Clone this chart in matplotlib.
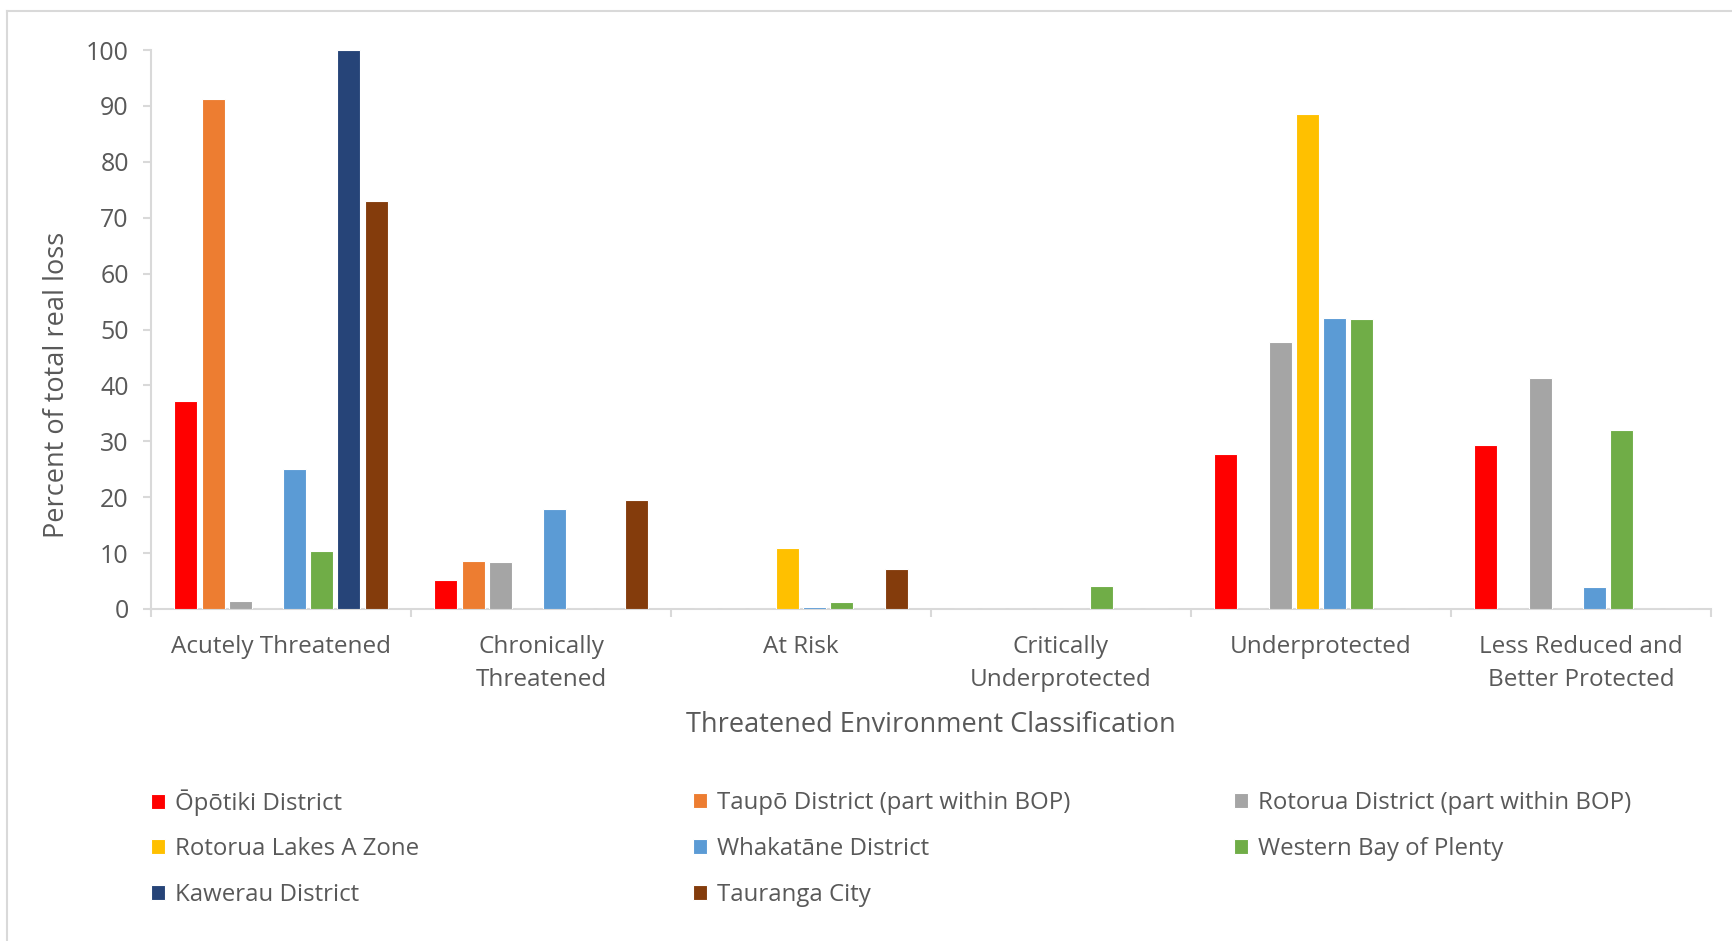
import matplotlib
matplotlib.use("Agg")
import matplotlib.pyplot as plt
import numpy as np
from matplotlib.lines import Line2D

plt.rcParams['font.family'] = ['Open Sans', 'DejaVu Sans']

categories = ["Acutely Threatened", "Chronically\nThreatened", "At Risk",
              "Critically\nUnderprotected", "Underprotected",
              "Less Reduced and\nBetter Protected"]

series_names = ["Ōpōtiki District", "Taupō District (part within BOP)",
                "Rotorua District (part within BOP)", "Rotorua Lakes A Zone",
                "Whakatāne District", "Western Bay of Plenty",
                "Kawerau District", "Tauranga City"]

opotiki   = [37.2, 5.2, 0.0, 0.0, 27.8, 29.3]
taupo     = [91.2, 8.6, 0.0, 0.0, 0.0, 0.0]
rotorua   = [1.5, 8.4, 0.0, 0.0, 47.8, 41.4]
lakes     = [0.0, 0.0, 11.0, 0.0, 88.6, 0.0]
whakatane = [25.0, 17.9, 0.4, 0.0, 52.1, 3.9]
wbop      = [10.3, 0.0, 1.2, 4.2, 51.8, 32.0]
kawerau   = [100.0, 0.0, 0.0, 0.0, 0.0, 0.0]
tauranga  = [73.0, 19.5, 7.1, 0.0, 0.0, 0.0]

series_values = [opotiki, taupo, rotorua, lakes, whakatane, wbop, kawerau, tauranga]
colors = ["#FF0000", "#ED7D31", "#A5A5A5", "#FFC000",
          "#5B9BD5", "#70AD47", "#264478", "#843C0C"]

W, H = 1733, 941
fig = plt.figure(figsize=(W / 100, H / 100), dpi=100)
ax = fig.add_axes([151 / W, 1 - 609 / H, (1711 - 151) / W, (609 - 50) / H])

text_color = "#595959"
axis_color = "#D9D9D9"

n = len(series_values)
pitch = 0.1045
width = 0.088
x = np.arange(len(categories)) + 0.5
handles = []
for i, (vals, c) in enumerate(zip(series_values, colors)):
    offs = (i - (n - 1) / 2) * pitch
    b = ax.bar(x + offs, vals, width=width, color=c, edgecolor="white",
               linewidth=0.8, label=series_names[i], zorder=3)
    handles.append(b)

ax.set_xlim(0, len(categories))
ax.set_ylim(0, 100)
ax.set_yticks(np.arange(0, 101, 10))
ax.set_xticks(np.arange(0, len(categories) + 1))
ax.set_xticklabels([])
ax.set_xticks(x, minor=True)
ax.set_xticklabels(categories, minor=True, fontsize=17.5, color=text_color,
                   linespacing=1.5)
ax.tick_params(axis='x', which='minor', length=0, pad=19)
ax.tick_params(axis='x', which='major', length=6, width=1.5, color=axis_color)
ax.tick_params(axis='y', length=6, width=1.5, color=axis_color,
               labelsize=18, labelcolor=text_color, pad=10)
for lab in ax.get_xticklabels(minor=True):
    lab.set_verticalalignment('top')

for s in ["top", "right"]:
    ax.spines[s].set_visible(False)
for s in ["left", "bottom"]:
    ax.spines[s].set_color(axis_color)
    ax.spines[s].set_linewidth(1.5)

ax.set_ylabel("Percent of total real loss", fontsize=19.5, color=text_color)
ax.yaxis.set_label_coords((57 - 151) / 1560, (609 - 385) / 559)
ax.yaxis.label.set_va('center')
ax.set_xlabel("Threatened Environment Classification", fontsize=19.5,
              color=text_color)
ax.xaxis.set_label_coords(0.5, (609 - 725) / 559)
ax.xaxis.label.set_va('center')

# legend: entries laid out row by row in three columns
col_x = [151, 693, 1234]
row_y = [803, 849, 895]
for i in range(n):
    r, c = divmod(i, 3)
    leg = fig.legend([handles[i]], [series_names[i]], loc='center left',
                     bbox_to_anchor=(col_x[c] / W, 1 - row_y[r] / H),
                     frameon=False, fontsize=17.3, handlelength=0.6,
                     handleheight=0.6, handletextpad=0.38,
                     borderaxespad=0, borderpad=0)
    for t in leg.get_texts():
        t.set_color(text_color)

# outer chart border (top and left visible)
fig.add_artist(Line2D([7 / W, 7 / W], [0, 1 - 11 / H], transform=fig.transFigure,
                      color=axis_color, linewidth=1.5))
fig.add_artist(Line2D([7 / W, 1], [1 - 11 / H, 1 - 11 / H], transform=fig.transFigure,
                      color=axis_color, linewidth=1.5))

fig.savefig("out.png", dpi=100, facecolor="white")
